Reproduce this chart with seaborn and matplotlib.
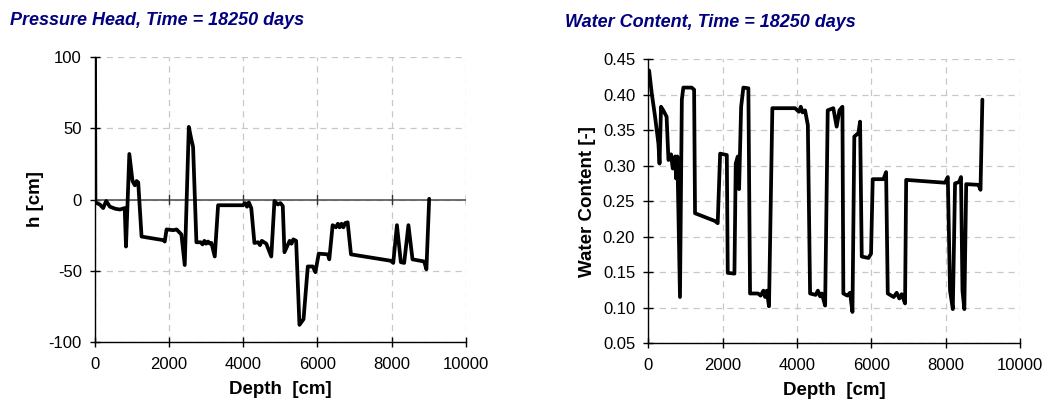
import numpy as np
import pandas as pd
import matplotlib
matplotlib.use("Agg")
import matplotlib.pyplot as plt
import seaborn as sns

# pressure head profile (depth in cm, h in cm)
ph_depth = [0, 10, 130, 220, 300, 400, 550, 670, 800, 835, 925, 1010, 1075, 1120,
            1165, 1255, 1840, 1880, 1930, 2110, 2200, 2330, 2420, 2530, 2600, 2645,
            2735, 2850, 2900, 2950, 3000, 3050, 3100, 3140, 3230, 3320, 3990, 4050,
            4100, 4150, 4215, 4300, 4400, 4450, 4500, 4620, 4755, 4840, 4930, 5000,
            5065, 5110, 5250, 5300, 5350, 5425, 5515, 5625, 5740, 5875, 5945, 6035,
            6280, 6320, 6410, 6500, 6550, 6600, 6650, 6700, 6750, 6815, 6905, 7980,
            8045, 8145, 8250, 8340, 8455, 8565, 8880, 8940, 9015]
ph_h = [100, -2, -3.5, -6, -1, -5, -6.5, -7, -6, -33, 32, 13, 10, 13,
        12, -26, -28.5, -29.5, -21, -21.5, -21, -24.5, -46, 51, 42, 37,
        -30, -30, -31.5, -29, -31, -29.5, -31, -30.5, -40, -4, -4, -2.5,
        -5, -2, -6, -30.5, -30, -32, -29, -31, -40, -1, -3.5, -2.5,
        -4.5, -37, -29, -31, -28, -29, -88, -84, -47, -47, -51, -38,
        -38.5, -42, -18, -19.5, -17, -19.5, -17, -19.5, -16.5, -16, -38.5, -43,
        -44.5, -18, -44, -44.5, -18, -42, -43.5, -49, 0.5]

# water content profile
wc_depth = [20, 90, 180, 270, 300, 340, 400, 490, 540, 610, 655, 720, 745, 780,
            850, 900, 940, 1165, 1230, 1255, 1795, 1865, 1930, 2110, 2135, 2315,
            2350, 2405, 2440, 2495, 2555, 2690, 2735, 2950, 3020, 3095, 3140, 3185,
            3245, 3335, 3945, 4050, 4100, 4150, 4215, 4290, 4350, 4500, 4560, 4620,
            4665, 4755, 4825, 4975, 5065, 5140, 5220, 5245, 5350, 5425, 5490, 5540,
            5650, 5695, 5740, 5920, 5990, 6035, 6325, 6395, 6440, 6600, 6680, 6750,
            6815, 6905, 6935, 7980, 8055, 8115, 8190, 8250, 8360, 8410, 8450, 8500,
            8550, 8880, 8935, 8985]
wc_theta = [0.434, 0.402, 0.369, 0.331, 0.303, 0.383, 0.378, 0.369, 0.308, 0.316,
            0.296, 0.313, 0.282, 0.313, 0.115, 0.393, 0.410, 0.410, 0.407, 0.233,
            0.222, 0.219, 0.317, 0.315, 0.149, 0.148, 0.303, 0.313, 0.267, 0.383,
            0.410, 0.409, 0.120, 0.120, 0.117, 0.124, 0.115, 0.124, 0.102, 0.381,
            0.381, 0.376, 0.383, 0.375, 0.378, 0.357, 0.120, 0.118, 0.124, 0.116,
            0.120, 0.103, 0.378, 0.381, 0.355, 0.378, 0.383, 0.120, 0.117, 0.121,
            0.094, 0.341, 0.346, 0.362, 0.172, 0.170, 0.176, 0.281, 0.281, 0.291,
            0.120, 0.115, 0.121, 0.113, 0.119, 0.106, 0.280, 0.276, 0.284, 0.124,
            0.098, 0.275, 0.277, 0.284, 0.124, 0.098, 0.274, 0.273, 0.266, 0.393]

sns.set_theme(style="white")
plt.rcParams['font.family'] = ['Liberation Sans', 'DejaVu Sans']
plt.rcParams['axes.unicode_minus'] = False
plt.rcParams['text.color'] = 'black'
plt.rcParams['axes.labelcolor'] = 'black'
plt.rcParams['xtick.color'] = 'black'
plt.rcParams['ytick.color'] = 'black'

fig = plt.figure(figsize=(10.56, 4.11), dpi=100)
ax1 = fig.add_axes([0.090, 0.168, 0.351, 0.693])
ax2 = fig.add_axes([0.614, 0.165, 0.352, 0.691])

ph = pd.DataFrame({'depth': ph_depth, 'h': ph_h})
wc = pd.DataFrame({'depth': wc_depth, 'theta': wc_theta})

sns.lineplot(data=ph, x='depth', y='h', ax=ax1, color='black', lw=2.7,
             estimator=None, sort=False, zorder=4)
sns.lineplot(data=wc, x='depth', y='theta', ax=ax2, color='black', lw=2.7,
             estimator=None, sort=False, zorder=4)


def style_axes(ax, yticks, ylabel, yfmt, ypad):
    ax.set_xlim(0, 10000)
    ax.set_xticks(np.arange(0, 10001, 2000))
    ax.set_ylim(yticks[0], yticks[-1])
    ax.set_yticks(yticks)
    ax.set_yticklabels([yfmt.format(v) for v in yticks])
    ax.grid(True, color='#c8c8c8', linestyle=(0, (5, 4)), lw=0.9)
    ax.set_axisbelow(True)
    for s in ['top', 'right']:
        ax.spines[s].set_visible(False)
    for s in ['left', 'bottom']:
        ax.spines[s].set_color('black')
        ax.spines[s].set_linewidth(1.0)
    ax.tick_params(direction='inout', length=7, width=1, color='black',
                   labelcolor='black', labelsize=12, bottom=True, left=True)
    ax.tick_params(axis='x', pad=7)
    ax.tick_params(axis='y', pad=6)
    ax.set_xlabel('Depth  [cm]', fontsize=13.5, fontweight='bold', labelpad=7,
                  color='black')
    ax.set_ylabel(ylabel, fontsize=13.5, fontweight='bold', labelpad=ypad,
                  color='black')


style_axes(ax1, [-100, -50, 0, 50, 100], 'h [cm]', '{:d}', 3)
style_axes(ax2, [0.05, 0.10, 0.15, 0.20, 0.25, 0.30, 0.35, 0.40, 0.45],
           'Water Content [-]', '{:.2f}', 5)

# zero line with tick marks on the pressure head panel
ax1.axhline(0, color='#555555', lw=1.2, zorder=2)
for xt in ax1.get_xticks():
    ax1.axvline(xt, ymin=0.483, ymax=0.517, color='#333333', lw=1, zorder=2)

fig.text(0.009, 0.94, 'Pressure Head, Time = 18250 days', color='#000080',
         fontsize=13, fontweight='bold', fontstyle='italic')
fig.text(0.535, 0.935, 'Water Content, Time = 18250 days', color='#000080',
         fontsize=13, fontweight='bold', fontstyle='italic')

fig.savefig('out.png', dpi=100)
